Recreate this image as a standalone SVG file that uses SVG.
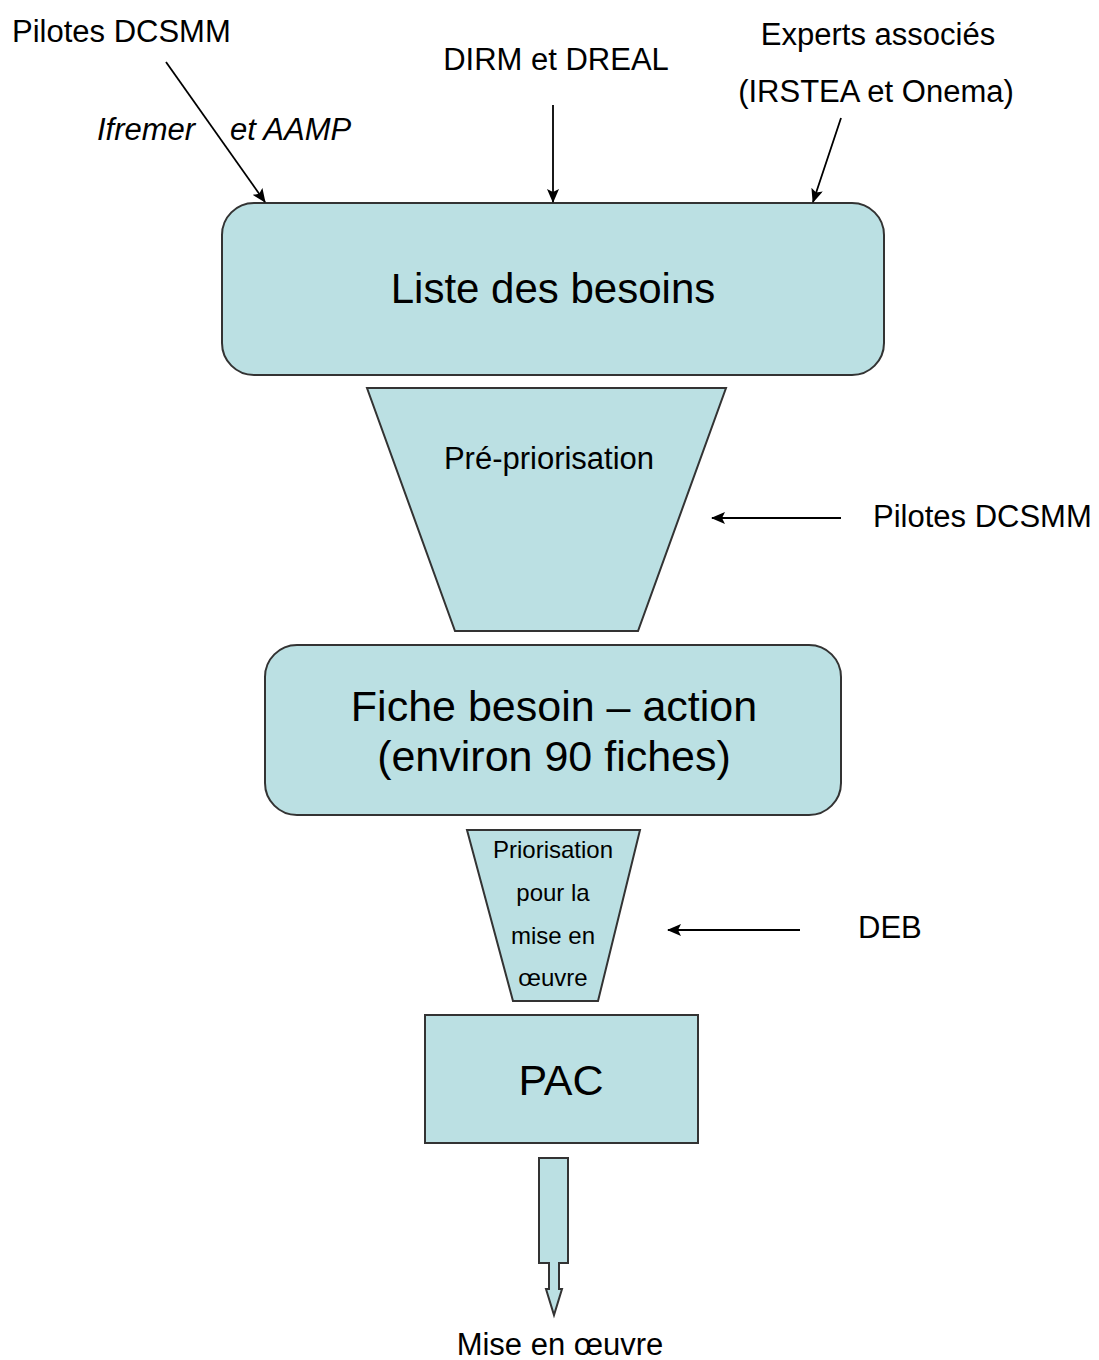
<svg xmlns="http://www.w3.org/2000/svg" width="1099" height="1360" viewBox="0 0 1099 1360">
<defs>
<marker id="ah" markerWidth="14" markerHeight="12" refX="13" refY="6" orient="auto" markerUnits="userSpaceOnUse" viewBox="0 0 14 12">
<path d="M0,0 L14,6 L0,12 L3,6 Z" fill="#000"/>
</marker>
<style>
.shape{fill:#bbe0e3;stroke:#333;stroke-width:2}
.t{font-family:"Liberation Sans",Arial,sans-serif;fill:#000}
.c{text-anchor:middle}
.conn{stroke:#000;stroke-width:1.8;fill:none;marker-end:url(#ah)}
</style>
</defs>
<rect width="1099" height="1360" fill="#fff"/>
<g id="labels">
<text class="t" x="12" y="42" font-size="31">Pilotes DCSMM</text>
<text class="t" x="97" y="140" font-size="31" font-style="italic">Ifremer</text>
<text class="t" x="230" y="140" font-size="31" font-style="italic">et AAMP</text>
<text class="t c" x="556" y="70" font-size="31">DIRM et DREAL</text>
<text class="t c" x="878" y="45" font-size="31">Experts associés</text>
<text class="t c" x="876" y="102" font-size="31">(IRSTEA et Onema)</text>
<text class="t" x="873" y="527" font-size="31">Pilotes DCSMM</text>
<text class="t" x="858" y="938" font-size="31">DEB</text>
<text class="t c" x="560" y="1355" font-size="31">Mise en œuvre</text>
</g>
<g id="node-liste">
<rect class="shape" x="222" y="203" width="662" height="172" rx="32"/>
<text class="t c" x="553" y="303" font-size="42">Liste des besoins</text>
</g>
<g id="node-prepriorisation">
<polygon class="shape" points="367,388 726,388 638,631 455,631"/>
<text class="t c" x="549" y="469" font-size="31">Pré-priorisation</text>
</g>
<g id="node-fiche">
<rect class="shape" x="265" y="645" width="576" height="170" rx="32"/>
<text class="t c" x="554" y="721" font-size="43">Fiche besoin – action</text>
<text class="t c" x="554" y="771" font-size="43">(environ 90 fiches)</text>
</g>
<g id="node-priorisation">
<polygon class="shape" points="467,830 640,830 598,1001 513,1001"/>
<text class="t c" x="553" y="858" font-size="24">Priorisation</text>
<text class="t c" x="553" y="901" font-size="24">pour la</text>
<text class="t c" x="553" y="944" font-size="24">mise en</text>
<text class="t c" x="553" y="986" font-size="24">œuvre</text>
</g>
<g id="node-pac">
<rect class="shape" x="425" y="1015" width="273" height="128"/>
<text class="t c" x="561" y="1095" font-size="43">PAC</text>
</g>
<g id="node-output-arrow">
<path class="shape" d="M539,1158 L568,1158 L568,1263 L559,1263 L559,1289 L562,1289 L554,1315 L546,1289 L549,1289 L549,1263 L539,1263 Z"/>
</g>
<g id="connectors">
<line class="conn" x1="166" y1="62" x2="265" y2="202"/>
<line class="conn" x1="553" y1="105" x2="553" y2="202"/>
<line class="conn" x1="841" y1="118" x2="813" y2="202"/>
<line class="conn" x1="841" y1="518" x2="712" y2="518"/>
<line class="conn" x1="800" y1="930" x2="668" y2="930"/>
</g>
</svg>
